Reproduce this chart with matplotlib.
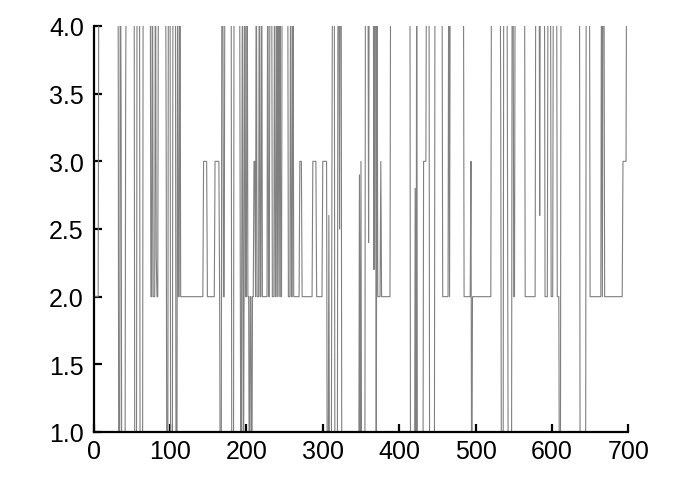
import numpy as np
import matplotlib
matplotlib.use("Agg")
import matplotlib.pyplot as plt

# Series: level and how many samples it holds.
# 5 = above the top of the axes, 0 = below the bottom (both clipped away).
run_values = [2.6, 2, 5, 0, 5, 3.4, 0, 3.5, 5, 0, 5, 0, 5,
              2, 5, 2, 5, 2.3, 2, 5,
              3.2, 0, 5, 0, 5, 0, 5, 2, 5, 2, 3, 2, 3, 2, 0, 5, 2, 5, 0, 5,
              2.2, 0, 2.4, 5, 0, 2, 5, 2, 5, 2, 0, 2, 0, 2, 3, 2, 5, 2, 5, 2, 5, 2,
              5, 2, 5, 2, 5, 2, 5, 2, 5, 2, 5,
              2, 5, 2, 5, 2, 5, 2, 3, 2, 3, 2, 3,
              0, 2.6, 0, 2.9, 5, 0, 5, 2.5, 5, 0,
              2.9, 0, 3, 0, 5, 2.4, 5, 2.2, 5, 0, 5, 2, 3, 2, 5,
              0, 2.8, 0, 5, 0, 3, 5, 0, 5, 2, 5, 2, 5, 2, 3, 0, 2, 5,
              3.3, 0, 5, 2.5, 0, 5, 2, 5, 2, 5, 2.6, 5, 2, 5, 2, 5, 2, 0,
              5, 0, 5, 2, 5, 2, 5, 2, 3, 5]
run_lengths = [1, 6, 26, 2, 1, 1, 5, 1, 11, 3, 4, 4, 10,
               2, 1, 3, 1, 1, 2, 10,
               1, 2, 3, 3, 4, 2, 1, 2, 1, 30, 5, 10, 6, 1, 2, 2, 2, 9, 3, 8,
               1, 1, 1, 1, 1, 1, 1, 2, 1, 2, 1, 2, 1, 2, 2, 1, 1, 3, 1, 2, 1, 7,
               1, 2, 3, 3, 1, 2, 1, 1, 1, 1, 1,
               2, 8, 3, 1, 2, 1, 8, 3, 14, 5, 8, 6,
               2, 1, 3, 1, 3, 4, 2, 1, 2, 23,
               1, 1, 1, 5, 4, 1, 6, 1, 2, 1, 1, 4, 1, 12, 26,
               6, 1, 1, 1, 8, 4, 4, 7, 10, 8, 1, 1, 18, 9, 1, 1, 25, 12,
               1, 3, 5, 1, 5, 2, 2, 13, 14, 5, 1, 6, 4, 4, 3, 5, 3, 2,
               25, 8, 5, 15, 1, 1, 2, 24, 5, 3]

x_ticks = [0, 100, 200, 300, 400, 500, 600, 700]
y_ticks = [1.0, 1.5, 2.0, 2.5, 3.0, 3.5, 4.0]

y = np.repeat(run_values, run_lengths)
x = np.arange(len(y))

plt.rcParams['font.family'] = ['Liberation Sans', 'DejaVu Sans']

fig = plt.figure(figsize=(7, 4.81), dpi=100)
ax = fig.add_axes([0.1337, 0.0998, 0.7639, 0.8441])
ax.plot(x, y, color='#808080', linewidth=0.8)

ax.set_xlim(0, 700)
ax.set_ylim(1.0, 4.0)
ax.set_xticks(x_ticks)
ax.set_yticks(y_ticks)
ax.set_yticklabels([f"{v:.1f}" for v in y_ticks])

for side in ['top', 'right']:
    ax.spines[side].set_visible(False)
for side in ['left', 'bottom']:
    ax.spines[side].set_linewidth(1.6)
ax.tick_params(direction='in', length=5.5, width=1.6, labelsize=18, color='black')
ax.tick_params(axis='y', pad=7)
ax.tick_params(axis='x', pad=5)

fig.savefig("out.png", dpi=100)
